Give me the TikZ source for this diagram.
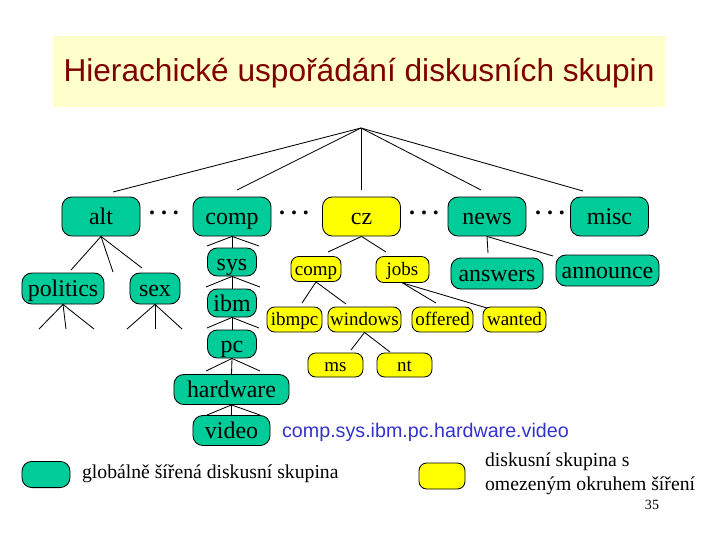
\documentclass[tikz,border=0pt]{standalone}
\usepackage{fontspec}
\setmainfont{Liberation Serif}
\newfontfamily\arialfont{Liberation Sans}

\definecolor{grpgreen}{RGB}{0,204,153}
\definecolor{locyellow}{RGB}{255,255,0}
\definecolor{titlebg}{RGB}{255,255,204}
\definecolor{titlered}{RGB}{128,0,0}
\definecolor{pathblue}{RGB}{51,51,204}

\tikzset{
  globbox/.style={draw, fill=grpgreen, rounded corners=7pt, inner sep=1pt,
    text height=14pt, text depth=2.6pt, font=\fontsize{17}{20}\selectfont},
  localbox/.style={draw, fill=locyellow, rounded corners=5.5pt, inner sep=1pt,
    text height=11.1pt, text depth=2.1pt, font=\fontsize{13.5}{16}\selectfont},
  topbox/.style={minimum width=1.95cm, minimum height=0.975cm},
  dotsnode/.style={font=\bfseries\fontsize{17}{20}\selectfont, inner sep=0pt},
}

\begin{document}
\begin{tikzpicture}[x=0.025cm,y=-0.025cm,line width=0.6pt]
\useasboundingbox (0,0) rectangle (720,540);

% title
\fill[titlebg] (53,36) rectangle (665,107);
\node[text=titlered, font=\arialfont\fontsize{22.5}{26}\selectfont] (title) at (359,73) {Hierachické uspořádání diskusních skupin};

% top level
\coordinate (root) at (361,128);
\node[globbox, topbox] (alt) at (101,216.5) {alt};
\node[globbox, topbox] (comp) at (232,216.5) {comp};
\node[globbox, topbox, fill=locyellow] (cz) at (361.5,216.5) {cz};
\node[globbox, topbox] (news) at (487,216.5) {news};
\node[globbox, topbox] (misc) at (609.5,216.5) {misc};
\node[dotsnode] (dotsA) at (164,213) {.\ .\ .};
\node[dotsnode] (dotsB) at (294,213) {.\ .\ .};
\node[dotsnode] (dotsC) at (424,213) {.\ .\ .};
\node[dotsnode] (dotsD) at (550,213) {.\ .\ .};

\coordinate (altT) at (113,192);
\coordinate (compT) at (237,190);
\coordinate (czT) at (361,190);
\coordinate (newsT) at (481,190);
\coordinate (miscT) at (583,191);
\foreach \t in {altT,compT,czT,newsT,miscT}
  \draw (root) -- (\t);

% alt
\node[globbox, minimum width=2.05cm, minimum height=0.775cm] (politics) at (63,288.5) {politics};
\node[globbox, minimum width=1.25cm, minimum height=0.775cm] (sex) at (155,288.5) {sex};
\coordinate (a1) at (71,270);
\coordinate (a2) at (113,272);
\coordinate (a3) at (142,268);
\foreach \t in {a1,a2,a3}
  \draw (alt.south) -- (\t);
\coordinate (p1) at (39,329);
\coordinate (p2) at (66,329);
\coordinate (p3) at (94,329);
\foreach \t in {p1,p2,p3}
  \draw (politics.south) -- (\t);
\coordinate (s1) at (127,329);
\coordinate (s2) at (155,329);
\coordinate (s3) at (182,329);
\foreach \t in {s1,s2,s3}
  \draw (sex.south) -- (\t);

% comp.sys.ibm.pc.hardware.video
\node[globbox, minimum width=1.225cm, minimum height=0.7cm] (sys) at (232,262) {sys};
\node[globbox, minimum width=1.225cm, minimum height=0.7cm] (ibm) at (232,303) {ibm};
\node[globbox, minimum width=1.225cm, minimum height=0.7cm] (pc) at (232,344) {pc};
\node[globbox, minimum width=2.875cm, minimum height=0.75cm] (hardware) at (231.5,389.5) {hardware};
\node[globbox, minimum width=1.925cm, minimum height=0.75cm] (video) at (231.5,430.5) {video};
\coordinate (c1) at (207,246);
\coordinate (c3) at (259,246);
\draw (comp.south) -- (c1); \draw (comp.south) -- (sys.north); \draw (comp.south) -- (c3);
\coordinate (y1) at (206,287);
\coordinate (y3) at (260,287);
\draw (sys.south) -- (y1); \draw (sys.south) -- (ibm.north); \draw (sys.south) -- (y3);
\coordinate (i1) at (207,328);
\coordinate (i3) at (259,328);
\draw (ibm.south) -- (i1); \draw (ibm.south) -- (pc.north); \draw (ibm.south) -- (i3);
\coordinate (q1) at (206,371);
\coordinate (q3) at (260,371);
\draw (pc.south) -- (q1); \draw (pc.south) -- (hardware.north); \draw (pc.south) -- (q3);
\coordinate (h1) at (207,415);
\coordinate (h3) at (260,415);
\draw (hardware.south) -- (h1); \draw (hardware.south) -- (video.north); \draw (hardware.south) -- (h3);
\node[anchor=west, text=pathblue, font=\arialfont\fontsize{14}{17}\selectfont] (fullname) at (277,432) {comp.sys.ibm.pc.hardware.video};

% cz
\node[localbox, minimum width=1.25cm, minimum height=0.625cm] (czcomp) at (316,269) {comp};
\node[localbox, minimum width=1.325cm, minimum height=0.65cm] (jobs) at (402.5,269.5) {jobs};
\node[localbox, minimum width=1.375cm, minimum height=0.625cm] (ibmpc) at (294.5,319.5) {ibmpc};
\node[localbox, minimum width=1.825cm, minimum height=0.625cm] (windows) at (364.5,319.5) {windows};
\node[localbox, minimum width=1.525cm, minimum height=0.625cm] (offered) at (442.5,319.5) {offered};
\node[localbox, minimum width=1.575cm, minimum height=0.625cm] (wanted) at (514.5,319.5) {wanted};
\node[localbox, minimum width=1.375cm, minimum height=0.6cm] (ms) at (335.5,365) {ms};
\node[localbox, minimum width=1.375cm, minimum height=0.6cm] (nt) at (404.5,365) {nt};
\coordinate (z1) at (328,252);
\coordinate (z2) at (386,252);
\draw (cz.south) -- (z1); \draw (cz.south) -- (z2);
\coordinate (k1) at (302,303);
\coordinate (k2) at (346,304);
\draw (czcomp.south) -- (k1); \draw (czcomp.south) -- (k2);
\coordinate (j1) at (436,303);
\coordinate (j2) at (487,308);
\draw (jobs.south) -- (j1); \draw (jobs.south) -- (j2);
\coordinate (w1) at (351,350);
\coordinate (w2) at (390,352);
\draw (windows.south) -- (w1); \draw (windows.south) -- (w2);

% news
\node[globbox, minimum width=2.3cm, minimum height=0.775cm] (answers) at (497,273.5) {answers};
\node[globbox, minimum width=2.575cm, minimum height=0.775cm] (announce) at (607.5,270.5) {announce};
\coordinate (n1) at (488,253);
\coordinate (n2) at (553,256);
\draw (news.south) -- (n1); \draw (news.south) -- (n2);

% legend
\node[globbox, minimum width=1.2cm, minimum height=0.625cm] (keyglob) at (46,474.5) {};
\node[anchor=west, font=\fontsize{14}{17}\selectfont] (keyglobtext) at (77,474) {globálně šířená diskusní skupina};
\node[localbox, minimum width=1.15cm, minimum height=0.65cm] (keyloc) at (442,476) {};
\node[anchor=west, align=left, font=\fontsize{14}{17}\selectfont] (keyloctext) at (480,474) {diskusní skupina s\\omezeným okruhem šíření};
\node[font=\fontsize{10}{12}\selectfont] (pagenum) at (652,505) {35};
\end{tikzpicture}
\end{document}
